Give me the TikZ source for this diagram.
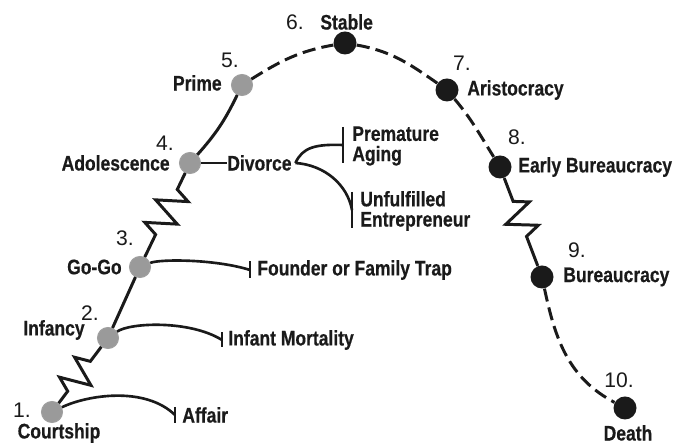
\documentclass[tikz,border=0pt]{standalone}
\usepackage{fontspec}
\setmainfont{Liberation Sans}
\newfontfamily\condfont[FakeStretch=0.83, FakeBold=0.5]{Liberation Sans Bold}
\usetikzlibrary{arrows.meta,calc,positioning,decorations.pathmorphing}
\definecolor{ink}{HTML}{1A1A1A}
\definecolor{youngfill}{HTML}{9A9A9A}

\begin{document}
\begin{tikzpicture}[
		stageyoung/.style={circle, fill=youngfill, draw=gray!75, line width=0.6pt, minimum size=0.42cm, inner sep=0pt},
		stageold/.style={circle, fill=ink, minimum size=0.46cm, inner sep=0pt},
		stagename/.style={font=\condfont\fontsize{12}{11.5}\selectfont, text=ink, inner sep=0pt, align=left},
		stagenum/.style={font=\fontsize{12}{12}\selectfont, text=ink, inner sep=0pt},
		life/.style={line width=1.7pt, draw=ink},
		decline/.style={life, dash pattern=on 7.5pt off 3.5pt},
		spring/.style 2 args={life, decorate, decoration={zigzag, segment length=0.5cm, amplitude=0.3cm, pre length=#1, post length=#2}},
		trap/.style={line width=1.5pt, draw=ink}
	]
		\useasboundingbox (0,0) rectangle (13.5,8.9);
		% stages of the life cycle
		\node [stageyoung] (court) at (1.04,0.66) {};
		\node [stageyoung] (inf) at (2.16,2.14) {};
		\node [stageyoung] (gogo) at (2.80,3.56) {};
		\node [stageyoung] (adol) at (3.80,5.64) {};
		\node [stageyoung] (prime) at (4.84,7.20) {};
		\node [stageold] (stable) at (6.90,8.04) {};
		\node [stageold] (aristo) at (8.94,7.10) {};
		\node [stageold] (early) at (10.00,5.56) {};
		\node [stageold] (bureau) at (10.84,3.36) {};
		\node [stageold] (death) at (12.50,0.74) {};
		% numbers
		\node [stagenum] (n1) at (0.44,0.70) {1.};
		\node [stagenum] (n2) at (1.80,2.64) {2.};
		\node [stagenum] (n3) at (2.50,4.14) {3.};
		\node [stagenum] (n4) at (3.30,6.04) {4.};
		\node [stagenum] (n5) at (4.60,7.70) {5.};
		\node [stagenum] (n6) at (5.90,8.46) {6.};
		\node [stagenum] (n7) at (9.24,7.64) {7.};
		\node [stagenum] (n8) at (10.34,6.16) {8.};
		\node [stagenum] (n9) at (11.54,3.90) {9.};
		\node [stagenum] (n10) at (12.38,1.30) {10.};
		% names
		\node [stagename] (tcourt) at (1.18,0.24) {Courtship};
		\node [stagename, anchor=east] (tinf) at (1.70,2.30) {Infancy};
		\node [stagename, anchor=east] (tgogo) at (2.44,3.56) {Go-Go};
		\node [stagename, anchor=east] (tadol) at (3.40,5.64) {Adolescence};
		\node [stagename, anchor=east] (tprime) at (4.44,7.24) {Prime};
		\node [stagename, anchor=west] (tstable) at (6.40,8.46) {Stable};
		\node [stagename, anchor=west] (taristo) at (9.34,7.10) {Aristocracy};
		\node [stagename, anchor=west] (tearly) at (10.36,5.56) {Early Bureaucracy};
		\node [stagename, anchor=west] (tbureau) at (11.26,3.36) {Bureaucracy};
		\node [stagename] (tdeath) at (12.56,0.24) {Death};
		% traps
		\coordinate (affbar) at (3.50,0.60);
		\coordinate (mortbar) at (4.44,2.10);
		\coordinate (foundbar) at (5.00,3.50);
		\coordinate (agebar) at (6.86,6.00);
		\coordinate (entbar) at (7.04,4.70);
		\node [stagename, anchor=west] (taff) at (3.64,0.60) {Affair};
		\node [stagename, anchor=west] (tmort) at (4.56,2.10) {Infant Mortality};
		\node [stagename, anchor=west] (tfound) at (5.14,3.50) {Founder or Family Trap};
		\node [stagename, anchor=west] (divorce) at (4.54,5.64) {Divorce};
		\node [stagename, anchor=west] (tage) at (7.04,5.98) {Premature\\Aging};
		\node [stagename, anchor=west] (tent) at (7.20,4.68) {Unfulfilled\\Entrepreneur};
		\coordinate (fork) at ([xshift=2pt]divorce.east);
		% growing
		\draw [spring={0.3cm}{0.15cm}] (court) -- (inf);
		\draw [life] (inf) -- (gogo);
		\draw [spring={0.5cm}{0.36cm}] (gogo) -- (adol);
		\draw [life] (adol) to[bend right=8] (prime);
		% ageing
		\draw [decline] (prime) to[out=32,in=190] (stable) to[out=-10,in=145] (aristo) to[out=-50,in=122] (early);
		\draw [spring={0.5cm}{0.5cm}] (early) -- (bureau);
		\draw [decline] (bureau) to[out=-78,in=152] (death);
		% branches
		\draw [trap] (court) .. controls (1.75,1.0) and (2.9,1.18) .. (affbar);
		\draw [trap] (inf) .. controls (2.6,2.45) and (3.8,2.5) .. (mortbar);
		\draw [trap] (gogo) .. controls (3.2,3.72) and (4.3,3.72) .. (foundbar);
		\draw [trap] (adol) -- (divorce);
		\draw [trap] (fork) .. controls (6.05,5.95) and (6.3,6.02) .. (agebar);
		\draw [trap] (fork) .. controls (6.5,5.6) and (6.95,5.2) .. (entbar);
		\foreach \b/\h in {affbar/0.16, mortbar/0.15, foundbar/0.17, agebar/0.36, entbar/0.36}
			\draw [life] ($(\b)+(0,\h)$) -- ($(\b)-(0,\h)$);
	\end{tikzpicture}
\end{document}
